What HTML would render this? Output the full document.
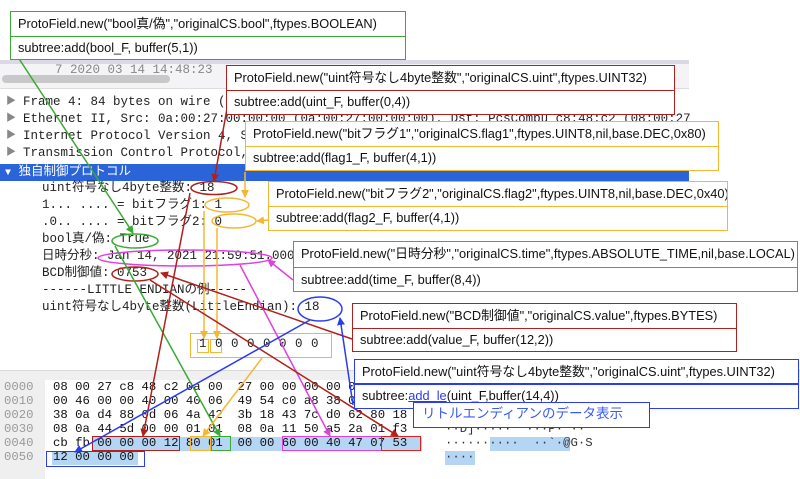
<!DOCTYPE html>
<html><head><meta charset="utf-8"><style>
body{margin:0;width:800px;height:479px;overflow:hidden;background:#fff;position:relative;font-family:"Liberation Sans","Noto Sans CJK JP",sans-serif}
.a{position:absolute;white-space:pre}
.m{font-family:"Liberation Mono","Noto Sans CJK JP",monospace;font-size:12.5px;color:#222;line-height:17px}
.h{font-family:"Liberation Mono",monospace;font-size:12.3px;color:#111;line-height:14px}
.bx{position:absolute;background:#fff;box-sizing:border-box;font-size:12.8px;color:#111}
.bx div{box-sizing:border-box;padding-left:7px;white-space:nowrap;overflow:hidden}
</style></head><body>
<!-- wireshark top list -->
<div class="a" style="left:0;top:60px;width:689px;height:28px;background:#f4f4f6"></div>
<div class="a" style="left:0;top:60px;width:689px;height:4px;background:#dcd8e6"></div>
<div class="a m" style="left:55px;top:62px;color:#888">7 2020 03 14 14:48:23</div>
<div class="a" style="left:2px;top:75px;width:168px;height:8px;border-radius:4px;background:#c8c8c8"></div>
<div class="a" style="left:0;top:88px;width:689px;height:1px;background:#ddd"></div>
<!-- detail -->
<div class="a m" style="left:6px;top:94px;color:#888;font-size:10px;line-height:17px">▶<br>▶<br>▶<br>▶</div>
<div class="a m" style="left:23px;top:94px">Frame 4: 84 bytes on wire (84 bytes captured
Ethernet II, Src: 0a:00:27:00:00:00 (0a:00:27:00:00:00), Dst: PcsCompu_c8:48:c2 (08:00:27
Internet Protocol Version 4, Src: 192.168.56.1
Transmission Control Protocol, Src Port: 54408</div>
<div class="a" style="left:0;top:164px;width:689px;height:17px;background:#2a64d8"></div>
<div class="a m" style="left:5px;top:164px;color:#fff"><span style="font-size:10px">▼</span> 独自制御プロトコル</div>
<div class="a m" style="left:42px;top:180px">uint符号なし4byte整数: 18
1... .... = bitフラグ1: 1
.0.. .... = bitフラグ2: 0
bool真/偽: True
日時分秒: Jan 14, 2021 21:59:51.000000000
BCD制御値: 0753
------LITTLE ENDIANの例-----
uint符号なし4byte整数(LittleEndian): 18</div>
<!-- hex pane -->
<div class="a" style="left:0;top:370px;width:800px;height:9px;background:#f0f0f0;border-top:1px solid #d8d8d8"></div>
<div class="a" style="left:0;top:379px;width:45px;height:100px;background:#efefef"></div>
<div class="a" style="left:92px;top:437px;width:330px;height:14px;background:#b5d5f5"></div>
<div class="a" style="left:52px;top:451px;width:86px;height:14px;background:#b5d5f5"></div>
<div class="a" style="left:490px;top:437px;width:80px;height:14px;background:#b5d5f5"></div>
<div class="a" style="left:445px;top:451px;width:30px;height:14px;background:#b5d5f5"></div>
<div class="a h" style="left:4px;top:380px;color:#999">0000
0010
0020
0030
0040
0050</div>
<div class="a h" style="left:53px;top:380px">08 00 27 c8 48 c2 0a 00  27 00 00 00 00 00 08 00
00 46 00 00 40 00 40 06  49 54 c0 a8 38 01 c0 a8
38 0a d4 88 0d 06 4a 42  3b 18 43 7c d0 62 80 18
08 0a 44 5d 00 00 01 01  08 0a 11 50 a5 2a 01 f3
cb fb 00 00 00 12 80 01  00 00 60 00 40 47 07 53
12 00 00 00</div>
<div class="a h" style="left:445px;top:422px;color:#333">··D]·····  ···P·*··
··········  ··`·@G·S
····</div>
<!-- hex boxes -->
<div class="a" style="left:92px;top:436px;width:88px;height:15px;border:1.5px solid #b0201c;box-sizing:border-box"></div>
<div class="a" style="left:190px;top:436px;width:21px;height:15px;border:1.5px solid #f5b731;box-sizing:border-box"></div>
<div class="a" style="left:211px;top:436px;width:20px;height:15px;border:1.5px solid #3aaa35;box-sizing:border-box"></div>
<div class="a" style="left:282px;top:436px;width:100px;height:15px;border:1.5px solid #e040e0;box-sizing:border-box"></div>
<div class="a" style="left:381px;top:436px;width:40px;height:15px;border:1.5px solid #e02020;box-sizing:border-box"></div>
<div class="a" style="left:46px;top:451px;width:99px;height:16px;border:1.5px solid #2a3cf0;box-sizing:border-box"></div>
<!-- bits box -->
<div class="a" style="left:190px;top:333px;width:142px;height:25px;border:1.5px solid #f5b731;box-sizing:border-box;background:#fff"></div>
<div class="a" style="left:197px;top:339px;width:12px;height:14px;border:1.5px solid #f5b731;box-sizing:border-box"></div>
<div class="a" style="left:210px;top:339px;width:12px;height:14px;border:1.5px solid #f5b731;box-sizing:border-box"></div>
<div class="a" style="left:199px;top:337px;font-family:'Liberation Mono',monospace;font-size:12.5px;color:#222;letter-spacing:0.5px">1 0 0 0 0 0 0 0</div>

<svg class="a" style="left:0;top:0" width="800" height="479">
<defs>
<marker id="g" markerWidth="8" markerHeight="8" refX="7" refY="4" orient="auto" markerUnits="userSpaceOnUse"><path d="M0,0L8,4L0,8z" fill="#3aaa35"/></marker>
<marker id="r" markerWidth="8" markerHeight="8" refX="7" refY="4" orient="auto" markerUnits="userSpaceOnUse"><path d="M0,0L8,4L0,8z" fill="#b0201c"/></marker>
<marker id="o" markerWidth="8" markerHeight="8" refX="7" refY="4" orient="auto" markerUnits="userSpaceOnUse"><path d="M0,0L8,4L0,8z" fill="#f5b731"/></marker>
<marker id="p" markerWidth="8" markerHeight="8" refX="7" refY="4" orient="auto" markerUnits="userSpaceOnUse"><path d="M0,0L8,4L0,8z" fill="#e040e0"/></marker>
<marker id="b" markerWidth="8" markerHeight="8" refX="7" refY="4" orient="auto" markerUnits="userSpaceOnUse"><path d="M0,0L8,4L0,8z" fill="#2a3cf0"/></marker>
</defs>
<g fill="none" stroke-width="1.5">
<ellipse cx="214" cy="188" rx="23" ry="6.5" stroke="#b0201c"/>
<ellipse cx="227" cy="205" rx="22" ry="7" stroke="#f5b731"/>
<ellipse cx="234" cy="221" rx="22" ry="7" stroke="#f5b731"/>
<ellipse cx="135" cy="241" rx="23" ry="7" stroke="#3aaa35"/>
<ellipse cx="185" cy="258" rx="87" ry="8" stroke="#e040e0"/>
<ellipse cx="135" cy="274" rx="23" ry="7" stroke="#b0201c"/>
<ellipse cx="320" cy="309" rx="22" ry="12" stroke="#2a3cf0"/>
<line x1="12" y1="48" x2="133" y2="233" stroke="#3aaa35" marker-end="url(#g)"/>
<line x1="115" y1="246" x2="220" y2="436" stroke="#3aaa35" marker-end="url(#g)"/>
<line x1="228" y1="103" x2="214" y2="181" stroke="#b0201c" marker-end="url(#r)"/>
<line x1="190" y1="193" x2="143" y2="436" stroke="#b0201c" marker-end="url(#r)"/>
<line x1="245" y1="172" x2="245" y2="197" stroke="#f5b731" marker-end="url(#o)"/>
<line x1="268" y1="220" x2="257" y2="221" stroke="#f5b731" marker-end="url(#o)"/>
<line x1="204" y1="211" x2="204" y2="338" stroke="#f5b731" marker-end="url(#o)"/>
<line x1="217" y1="228" x2="217" y2="338" stroke="#f5b731" marker-end="url(#o)"/>
<line x1="262" y1="358" x2="203" y2="436" stroke="#f5b731" marker-end="url(#o)"/>
<line x1="293" y1="280" x2="268" y2="260" stroke="#e040e0" marker-end="url(#p)"/>
<line x1="240" y1="265" x2="330" y2="436" stroke="#e040e0" marker-end="url(#p)"/>
<line x1="352" y1="339" x2="161" y2="273" stroke="#b0201c" marker-end="url(#r)"/>
<line x1="150" y1="280" x2="398" y2="436" stroke="#b0201c" marker-end="url(#r)"/>
<line x1="353" y1="405" x2="340" y2="318" stroke="#2a3cf0" marker-end="url(#b)"/>
<line x1="310" y1="320" x2="75" y2="452" stroke="#2a3cf0" marker-end="url(#b)"/>
</g>
</svg>

<!-- code boxes -->
<div class="bx" style="left:10px;top:11px;width:396px;height:49px;border:1.5px solid #3aaa35">
<div style="height:25px;line-height:23px;border-bottom:1.5px solid #3aaa35">ProtoField.new("bool真/偽","originalCS.bool",ftypes.BOOLEAN)</div>
<div style="line-height:22px">subtree:add(bool_F, buffer(5,1))</div></div>

<div class="bx" style="left:226px;top:65px;width:449px;height:50px;border:1.5px solid #b0201c">
<div style="height:25px;line-height:23px;border-bottom:1.5px solid #b0201c">ProtoField.new("uint符号なし4byte整数","originalCS.uint",ftypes.UINT32)</div>
<div style="line-height:22px">subtree:add(uint_F, buffer(0,4))</div></div>

<div class="bx" style="left:245px;top:121px;width:474px;height:50px;border:1.5px solid #f5b731">
<div style="height:25px;line-height:23px;border-bottom:1.5px solid #f5b731">ProtoField.new("bitフラグ1","originalCS.flag1",ftypes.UINT8,nil,base.DEC,0x80)</div>
<div style="line-height:22px">subtree:add(flag1_F, buffer(4,1))</div></div>

<div class="bx" style="left:268px;top:181px;width:460px;height:50px;border:1.5px solid #f5b731">
<div style="height:25px;line-height:23px;border-bottom:1.5px solid #f5b731">ProtoField.new("bitフラグ2","originalCS.flag2",ftypes.UINT8,nil,base.DEC,0x40)</div>
<div style="line-height:22px">subtree:add(flag2_F, buffer(4,1))</div></div>

<div class="bx" style="left:293px;top:241px;width:505px;height:51px;border:1.5px solid #e040e0">
<div style="height:26px;line-height:24px;border-bottom:1.5px solid #e040e0">ProtoField.new("日時分秒","originalCS.time",ftypes.ABSOLUTE_TIME,nil,base.LOCAL)</div>
<div style="line-height:23px">subtree:add(time_F, buffer(8,4))</div></div>

<div class="bx" style="left:352px;top:303px;width:385px;height:49px;border:1.5px solid #b0201c">
<div style="height:25px;line-height:23px;border-bottom:1.5px solid #b0201c">ProtoField.new("BCD制御値","originalCS.value",ftypes.BYTES)</div>
<div style="line-height:22px">subtree:add(value_F, buffer(12,2))</div></div>

<div class="bx" style="left:354px;top:359px;width:445px;height:50px;border:1.5px solid #2a3cf0">
<div style="height:25px;line-height:23px;border-bottom:2px solid #2a3cf0">ProtoField.new("uint符号なし4byte整数","originalCS.uint",ftypes.UINT32)</div>
<div style="line-height:22px">subtree:<span style="color:#2a3cf0;text-decoration:underline">add_le</span>(uint_F,buffer(14,4))</div></div>

<div class="bx" style="left:413px;top:402px;width:237px;height:26px;border:1.5px solid #2a3cf0;font-size:13.5px;color:#3a5cf5;padding-left:8px;line-height:22px">リトルエンディアンのデータ表示</div>
</body></html>
